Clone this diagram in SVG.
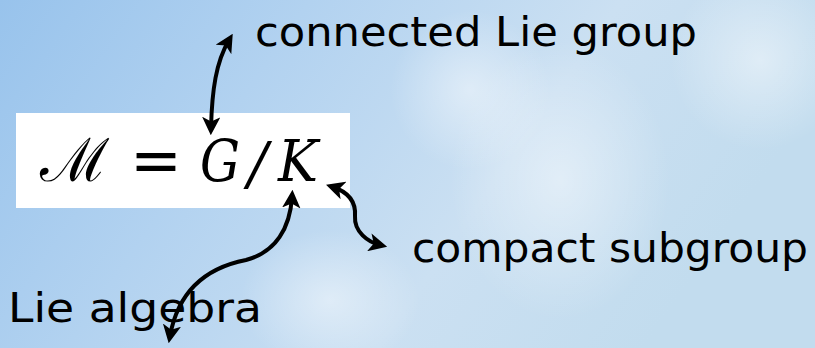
<svg xmlns="http://www.w3.org/2000/svg" width="815" height="348" viewBox="0 0 815 348">
  <defs>
    <linearGradient id="bg" x1="0" y1="0" x2="1" y2="0.3">
      <stop offset="0" stop-color="#98c3ec"/>
      <stop offset="0.35" stop-color="#b2d2f0"/>
      <stop offset="0.7" stop-color="#cbe0f2"/>
      <stop offset="1" stop-color="#c2dcee"/>
    </linearGradient>
    <radialGradient id="glow">
      <stop offset="0" stop-color="#ffffff" stop-opacity="0.45"/>
      <stop offset="1" stop-color="#ffffff" stop-opacity="0"/>
    </radialGradient>
    <marker id="head" viewBox="0 0 10 10" refX="6" refY="5" markerWidth="4.6" markerHeight="4.6" orient="auto-start-reverse" markerUnits="strokeWidth">
      <path d="M0,0 L10,5 L0,10 L2.5,5 Z" fill="#000"/>
    </marker>
    <style>
      .label { font-family: "DejaVu Sans", sans-serif; font-size: 40px; fill: #000; }
      .math { font-family: "DejaVu Serif", serif; font-style: italic; font-size: 58px; fill: #000; }
      .link { fill: none; stroke: #000; stroke-width: 4; stroke-linecap: round; marker-start: url(#head); marker-end: url(#head); }
    </style>
  </defs>

  <!-- backdrop with soft bokeh light -->
  <rect width="815" height="348" fill="url(#bg)"/>
  <ellipse cx="560" cy="180" rx="110" ry="140" fill="url(#glow)"/>
  <ellipse cx="470" cy="90" rx="80" ry="80" fill="url(#glow)"/>
  <ellipse cx="760" cy="60" rx="90" ry="90" fill="url(#glow)"/>
  <ellipse cx="330" cy="300" rx="90" ry="70" fill="url(#glow)"/>

  <!-- formula box -->
  <g id="formula">
    <rect x="16" y="113" width="334" height="95" fill="#ffffff"/>
    <text x="40" y="181" font-family="DejaVu Serif, serif" font-size="60" fill="#000">ℳ</text>
    <text x="130" y="182" font-family="DejaVu Sans, sans-serif" font-size="62" fill="#000">=</text>
    <text x="200" y="181" class="math" textLength="40" lengthAdjust="spacingAndGlyphs">G</text>
    <text x="248" y="184" class="math" font-style="normal" font-size="54">/</text>
    <text x="278" y="181" class="math" textLength="40" lengthAdjust="spacingAndGlyphs">K</text>
  </g>

  <g id="label-group">
    <text x="255" y="46" class="label" textLength="442" lengthAdjust="spacingAndGlyphs">connected Lie group</text>
  </g>
  <g id="label-subgroup">
    <text x="412" y="262" class="label" textLength="396" lengthAdjust="spacingAndGlyphs">compact subgroup</text>
  </g>
  <g id="label-algebra">
    <text x="8" y="322" class="label" textLength="254" lengthAdjust="spacingAndGlyphs">Lie algebra</text>
  </g>

  <!-- connectors -->
  <g id="connectors">
    <path class="link" d="M229,40 C216,62 212,90 211,128"/>
    <path class="link" d="M333,187 C348,192 356,202 355,216 C354,232 368,242 380,245"/>
    <path class="link" d="M292,197 C290,228 276,252 246,260 C205,268 178,292 170,336"/>
  </g>
</svg>
